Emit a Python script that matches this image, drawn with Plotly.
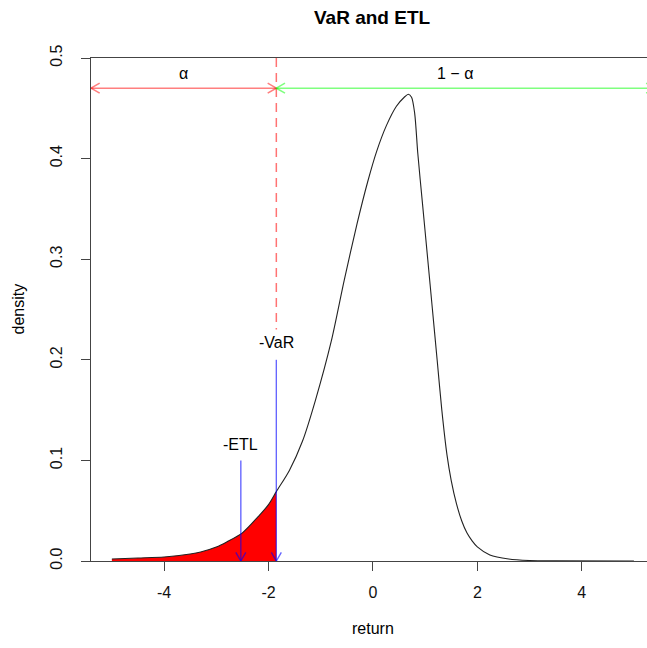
import math
import plotly.graph_objects as go

# ---- data ----
ret = [-5.0, -4.5, -4.0, -3.5, -3.3, -3.0, -2.8, -2.5, -2.2, -2.0, -1.85, -1.6, -1.35, -1.1,
       -0.8, -0.55, -0.3, -0.1, 0.07, 0.26, 0.45, 0.6, 0.68, 0.74, 0.80, 0.86, 0.95, 1.05,
       1.14, 1.23, 1.32, 1.42, 1.5, 1.6, 1.7, 1.8, 1.9, 2.0, 2.24, 2.6, 3.0, 3.5, 5.0]
dens = [0.002, 0.003, 0.004, 0.007, 0.009, 0.014, 0.019, 0.028, 0.044, 0.056, 0.069, 0.090,
        0.119, 0.160, 0.218, 0.279, 0.336, 0.377, 0.407, 0.433, 0.452, 0.461, 0.464, 0.461,
        0.445, 0.405, 0.355, 0.300, 0.250, 0.200, 0.150, 0.105, 0.080, 0.057, 0.040, 0.028,
        0.020, 0.014, 0.006, 0.002, 0.0005, 0.0001, 0.0]

VAR = -1.85
ETL = -2.53
ALPHA_Y = 0.47
VAR_ARROW_TOP = 0.2
ETL_ARROW_TOP = 0.1
VAR_LABEL_Y = 0.217
ETL_LABEL_Y = 0.116
DASH_BOTTOM = 0.23
X_LEFT, X_RIGHT = -5.4, 5.4
X_MAX = 5.0

xticks = [-4, -2, 0, 2, 4]
yticks = [0.0, 0.1, 0.2, 0.3, 0.4, 0.5]

# ---- layout geometry ----
W, H = 647, 648
ML, MR, MT, MB = 91, 0, 58, 87
XRANGE = [-5.4, 5.25]
YRANGE = [0, 0.5]
PX_X = (W - ML - MR) / (XRANGE[1] - XRANGE[0])
PX_Y = (H - MT - MB) / (YRANGE[1] - YRANGE[0])

FONT = "Liberation Sans, Arial, Helvetica, sans-serif"
FS = 16


def arrow(x0, y0, x1, y1, both=False, L=10, ang=30):
    dxp = (x1 - x0) * PX_X
    dyp = (y1 - y0) * PX_Y
    n = math.hypot(dxp, dyp)
    ux, uy = dxp / n, dyp / n
    xs = [x0, x1, None]
    ys = [y0, y1, None]

    def head(px, py, bx, by):
        hx, hy = [], []
        for s in (1, -1):
            a = math.radians(ang) * s
            rx = bx * math.cos(a) - by * math.sin(a)
            ry = bx * math.sin(a) + by * math.cos(a)
            hx.append(px + rx * L / PX_X)
            hy.append(py + ry * L / PX_Y)
        return [hx[0], px, hx[1], None], [hy[0], py, hy[1], None]

    hx, hy = head(x1, y1, -ux, -uy)
    xs += hx
    ys += hy
    if both:
        hx, hy = head(x0, y0, ux, uy)
        xs += hx
        ys += hy
    return xs, ys


fig = go.Figure()

# red tail fill
tail_x = [x for x in ret if x <= VAR]
tail_y = [d for x, d in zip(ret, dens) if x <= VAR]
fig.add_trace(go.Scatter(x=tail_x, y=tail_y, mode="lines", fill="tozeroy",
                         fillcolor="#ff0000", line=dict(width=0, shape="spline", smoothing=0.8),
                         hoverinfo="skip"))

# density curve
fig.add_trace(go.Scatter(x=ret, y=dens, mode="lines",
                         line=dict(color="#222222", width=1.1, shape="spline", smoothing=0.8)))

# dashed VaR line
fig.add_trace(go.Scatter(x=[VAR, VAR], y=[YRANGE[1], DASH_BOTTOM], mode="lines",
                         line=dict(color="rgba(255,0,0,0.55)", width=1.5, dash="9px,6px")))

# alpha arrows
ax, ay = arrow(X_LEFT, ALPHA_Y, VAR, ALPHA_Y, both=True)
fig.add_trace(go.Scatter(x=ax, y=ay, mode="lines",
                         line=dict(color="rgba(255,0,0,0.5)", width=1.6)))
gx, gy = arrow(VAR, ALPHA_Y, X_RIGHT, ALPHA_Y, both=True)
fig.add_trace(go.Scatter(x=gx, y=gy, mode="lines",
                         line=dict(color="rgba(0,255,0,0.5)", width=1.6)))

# blue arrows
bx1, by1 = arrow(VAR, VAR_ARROW_TOP, VAR, 0)
bx2, by2 = arrow(ETL, ETL_ARROW_TOP, ETL, 0)
fig.add_trace(go.Scatter(x=bx1 + bx2, y=by1 + by2, mode="lines",
                         line=dict(color="rgba(0,0,255,0.6)", width=1.4)))

txt = dict(size=FS, color="black", family=FONT)
ann = [
    dict(x=VAR, y=VAR_LABEL_Y, text="-VaR", showarrow=False, font=txt,
         xanchor="center", yanchor="middle"),
    dict(x=ETL, y=ETL_LABEL_Y, text="-ETL", showarrow=False, font=txt,
         xanchor="center", yanchor="middle"),
    dict(x=(X_LEFT + VAR) / 2, y=0.485, text="α", showarrow=False, font=txt,
         xanchor="center", yanchor="middle"),
    dict(x=(VAR + X_MAX) / 2, y=0.485, text="1 − α", showarrow=False, font=txt,
         xanchor="center", yanchor="middle"),
    dict(x=0, xref="x", y=1, yref="paper", yshift=41, text="<b>VaR and ETL</b>",
         xanchor="center", yanchor="middle",
         showarrow=False, font=dict(size=19, color="black", family=FONT)),
    dict(x=0, xref="x", y=0, yref="paper", yshift=-67, text="return",
         xanchor="center", yanchor="middle", showarrow=False, font=txt),
    dict(x=0, xref="paper", xshift=-73, y=0.5, yref="paper", text="density",
         xanchor="center", yanchor="middle",
         textangle=-90, showarrow=False, font=txt),
]

fig.update_layout(
    width=W, height=H,
    margin=dict(l=ML, r=MR, t=MT, b=MB, pad=0),
    plot_bgcolor="white", paper_bgcolor="white",
    showlegend=False,
    font=dict(family=FONT, size=FS, color="black"),
    annotations=ann,
    xaxis=dict(range=XRANGE, tickvals=xticks, ticktext=[str(v) for v in xticks],
               ticks="outside", ticklen=9, tickcolor="#444", tickwidth=1,
               showline=True, linecolor="#444", linewidth=1.3, mirror=True,
               showgrid=False, zeroline=False, ticklabelstandoff=8,
               tickfont=dict(size=FS, family=FONT, color="#111")),
    yaxis=dict(range=YRANGE, tickvals=yticks, tickformat=".1f",
               ticks="outside", ticklen=9, tickcolor="#444", tickwidth=1,
               showline=True, linecolor="#444", linewidth=1.3, mirror=False,
               showgrid=False, zeroline=False, tickangle=-90, ticklabelstandoff=12,
               tickfont=dict(size=FS, family=FONT, color="#111")),
)

fig.write_html("out.html")
